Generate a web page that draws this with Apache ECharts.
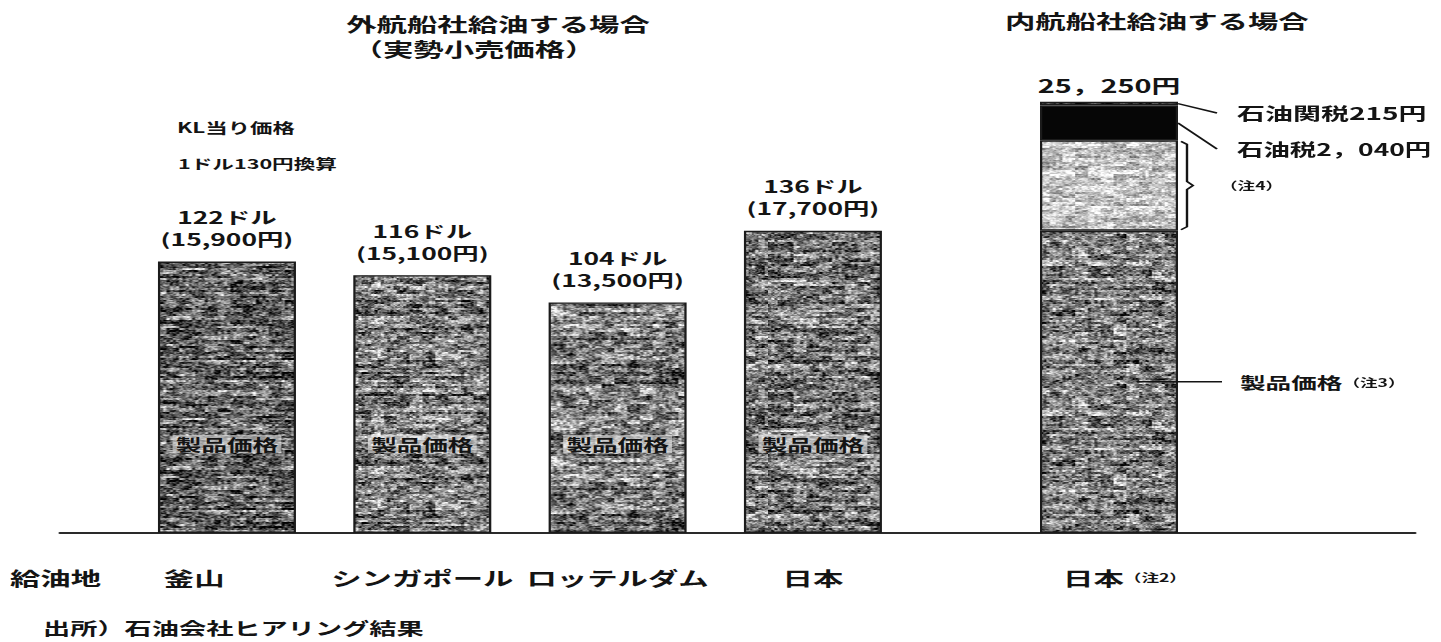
<!DOCTYPE html>
<html lang="ja">
<head>
<meta charset="utf-8">
<title>給油地別 燃料油価格（KL当り）</title>
<script src="https://cdn.jsdelivr.net/npm/echarts@6/dist/echarts.min.js"></script>
<style>
  html, body { margin: 0; padding: 0; background: #fff; overflow: hidden; width: 1441px; height: 642px; }
  /* the page is laid out narrow and widened horizontally, like the wide-set print it reproduces */
  #chart { width: 900.625px; height: 642px; transform: scaleX(1.6); transform-origin: 0 0; }
</style>
</head>
<body>
<div id="chart"></div>
<script>
// ---- data -------------------------------------------------------------
// 外航船社給油（実勢小売価格, KL当り, 1ドル130円換算）
const foreignPorts = ['釜山', 'シンガポール', 'ロッテルダム', '日本'];
const foreignPriceYen = [15900, 15100, 13500, 17700];
const foreignPriceUsd = [122, 116, 104, 136];

// 内航船社給油（日本）: 下から 製品価格(注3)・(注4)・石油税・石油関税
const domesticPort = ['日本（注2）'];
const domesticProduct = [17700];
const domesticNote4 = [5295];
const domesticPetroleumTax = [2040];
const domesticPetroleumDuty = [215];

// ---- layout helpers -----------------------------------------------------
const STRETCH = 1.6;
const X = v => v / STRETCH;              // horizontal page pixel -> chart pixel
const FONT = "'Noto Sans CJK JP', 'Noto Sans', sans-serif";
const INK = '#141414';
const Y_MAX = 26000;

// deterministic print-grain texture for the shaded bars
function hash(i, j, s) {
  let h = (Math.imul(i, 374761393) + Math.imul(j, 668265263) + Math.imul(s, 982451653)) | 0;
  h = Math.imul(h ^ (h >>> 13), 1274126177);
  h = h ^ (h >>> 16);
  return (h >>> 0) / 4294967295;
}
function grain(base, amp, seed) {
  const w = 96, h = 150;
  const c = document.createElement('canvas');
  c.width = w; c.height = h;
  const ctx = c.getContext('2d');
  const img = ctx.createImageData(w, h);
  for (let y = 0; y < h; y++) {
    const row = hash(3, y >> 1, seed + 11) - 0.5;
    for (let x = 0; x < w; x++) {
      const blob = hash(x >> 3, y >> 2, seed + 5) - 0.5;
      const coarse = hash(x >> 1, y >> 1, seed) - 0.5;
      const fine = hash(x, y, seed + 7) - 0.5;
      let v = base + amp * (0.45 * blob + 0.55 * coarse + 0.4 * fine + 0.3 * row);
      v = Math.max(0, Math.min(255, v));
      const k = (y * w + x) * 4;
      img.data[k] = img.data[k + 1] = img.data[k + 2] = v;
      img.data[k + 3] = 255;
    }
  }
  ctx.putImageData(img, 0, 0);
  return { image: c, repeat: 'repeat', imageWidth: w, imageHeight: h };
}

const foreignFills = [grain(96, 230, 1), grain(122, 230, 2), grain(128, 230, 3), grain(122, 230, 4)];
const fmtComma = v => v.toLocaleString('en-US');
const fmtWide = v => v.toLocaleString('en-US').replace(/,/g, '，');
const noteSplit = s => s.replace(/（(注\d)）/, '{n|（$1）}').replace(/^([^{]+)/, '{c|$1}');

const chart = echarts.init(document.getElementById('chart'), null, { renderer: 'svg', width: 900.625, height: 642 });

const txt = (size, extra) => Object.assign({ fontFamily: FONT, fontWeight: 'bold', fontSize: size, color: INK }, extra || {});
const barBorder = { borderColor: '#1b1b1b', borderWidth: 1.4 };
const domesticTotal = domesticProduct[0] + domesticNote4[0] + domesticPetroleumTax[0] + domesticPetroleumDuty[0];

const option = {
  animation: false,
  backgroundColor: '#ffffff',
  grid: [
    { left: X(129.3), width: X(781.3), top: 89, bottom: 109 },
    { left: X(1009), width: X(200), top: 89, bottom: 109 },
    { left: X(60), width: X(1355), top: 89, bottom: 109 }
  ],
  xAxis: [
    {
      gridIndex: 0, type: 'category',
      data: foreignPorts.map((p, i) => i === 0 ? { value: p, textStyle: { padding: [0, 41, 0, 0] } } : p),
      axisLine: { show: false }, axisTick: { show: false },
      axisLabel: Object.assign(txt(19), { margin: 35, interval: 0 })
    },
    {
      gridIndex: 1, type: 'category', data: domesticPort,
      axisLine: { show: false }, axisTick: { show: false },
      axisLabel: {
        margin: 35, interval: 0, padding: [0, 0, 0, 20],
        formatter: v => noteSplit(v),
        rich: { c: txt(19), n: txt(11, { padding: [0, 0, 1, 0] }) }
      }
    },
    {
      gridIndex: 2, type: 'category', data: [''],
      axisLine: { show: true, lineStyle: { color: '#2a2a2a', width: 2 } },
      axisTick: { show: false }, axisLabel: { show: false }
    }
  ],
  yAxis: [0, 1, 2].map(g => ({ gridIndex: g, type: 'value', min: 0, max: Y_MAX, show: false })),
  series: [
    {
      name: '製品価格', type: 'bar', xAxisIndex: 0, yAxisIndex: 0, barWidth: X(138),
      data: foreignPriceYen.map((v, i) => ({ value: v, itemStyle: { color: foreignFills[i] } })),
      itemStyle: barBorder,
      label: {
        show: true, position: 'top', distance: 12,
        formatter: p => `{u|${foreignPriceUsd[p.dataIndex]}ドル}\n{y|(${fmtComma(p.value)}円)}`,
        rich: { u: txt(16.5, { lineHeight: 22 }), y: txt(16.5, { lineHeight: 22 }) }
      }
    },
    {
      name: '製品価格（注3）', type: 'bar', stack: 'domestic', xAxisIndex: 1, yAxisIndex: 1, barWidth: X(138),
      data: domesticProduct, itemStyle: Object.assign({ color: grain(122, 230, 5) }, barBorder)
    },
    {
      name: '（注4）', type: 'bar', stack: 'domestic', xAxisIndex: 1, yAxisIndex: 1, barWidth: X(138),
      data: domesticNote4, itemStyle: Object.assign({ color: grain(195, 150, 6) }, barBorder)
    },
    {
      name: '石油税', type: 'bar', stack: 'domestic', xAxisIndex: 1, yAxisIndex: 1, barWidth: X(138),
      data: domesticPetroleumTax, itemStyle: Object.assign({}, barBorder, { color: '#060606' })
    },
    {
      name: '石油関税', type: 'bar', stack: 'domestic', xAxisIndex: 1, yAxisIndex: 1, barWidth: X(138),
      data: domesticPetroleumDuty, itemStyle: Object.assign({ color: grain(45, 170, 7) }, barBorder),
      label: {
        show: true, position: 'top', distance: 8,
        formatter: () => `${fmtWide(domesticTotal)}円`,
        ...txt(18)
      }
    }
  ]
};

chart.setOption(option);

// ---- annotations ---------------------------------------------------------
const g = [];
const text = (x, y, s, size, align, extra) => g.push({
  type: 'text', x, y, silent: true, z: 100,
  style: Object.assign({
    text: s, fill: INK, fontFamily: FONT, fontWeight: 'bold', fontSize: size,
    textAlign: align || 'left', textVerticalAlign: 'middle'
  }, extra || {})
});
const line = (pts) => g.push({
  type: 'polyline', silent: true, z: 100, shape: { points: pts },
  style: { stroke: INK, lineWidth: 1.5, fill: null }
});

// headings and notes
text(X(498), 24, '外航船社給油する場合', 19, 'center');
text(X(474), 49, '（実勢小売価格）', 19, 'center');
text(X(1005), 21, '内航船社給油する場合', 19, 'left');
text(X(177), 127, 'KL当り価格', 14, 'left');
text(X(178), 163, '1ドル130円換算', 13.5, 'left');
text(X(10), 578, '給油地', 19, 'left');
text(X(43), 628, '出所）石油会社ヒアリング結果', 17, 'left');

// "製品価格" inside each foreign-going bar
foreignPorts.forEach(p => {
  const [x] = chart.convertToPixel({ gridIndex: 0 }, [p, 0]);
  text(x, 444, '製品価格', 16, 'center', {
    backgroundColor: 'rgba(232,232,232,0.6)', padding: [1, 2, 1, 2]
  });
});

// breakdown callouts on the domestic bar
const cat = domesticPort[0];
const at = v => chart.convertToPixel({ gridIndex: 1 }, [cat, v]);
const cx = at(0)[0];
const right = cx + X(138) / 2;
const c1 = domesticProduct[0];
const c2 = c1 + domesticNote4[0];
const c3 = c2 + domesticPetroleumTax[0];

const dutyY = at(c3 + domesticPetroleumDuty[0] / 2)[1];
line([[right, dutyY], [X(1217), 113]]);
text(X(1237), 113, '石油関税215円', 17.5, 'left');

const taxY = at(c2 + domesticPetroleumTax[0] / 2)[1];
line([[right, taxY], [X(1217), 149]]);
text(X(1237), 149, '石油税2，040円', 16.5, 'left');

const n4Top = at(c2)[1] + 1, n4Bot = at(c1)[1] - 1, n4Mid = (n4Top + n4Bot) / 2;
line([[X(1181), n4Top], [X(1187), n4Top + 3], [X(1187), n4Mid - 4], [X(1193), n4Mid],
      [X(1187), n4Mid + 4], [X(1187), n4Bot - 3], [X(1181), n4Bot]]);
text(X(1220), n4Mid, '（注4）', 11, 'left');

const prodY = at(c1 / 2)[1];
line([[X(1137), prodY], [X(1222), prodY]]);
g.push({
  type: 'text', x: X(1240), y: prodY, silent: true, z: 100,
  style: {
    text: '{c|製品価格}{n|（注3）}', textVerticalAlign: 'middle', textAlign: 'left',
    rich: { c: { fontFamily: FONT, fontWeight: 'bold', fontSize: 16, fill: INK },
            n: { fontFamily: FONT, fontWeight: 'bold', fontSize: 11, fill: INK } }
  }
});

chart.setOption({ graphic: { elements: g } });
</script>
</body>
</html>
